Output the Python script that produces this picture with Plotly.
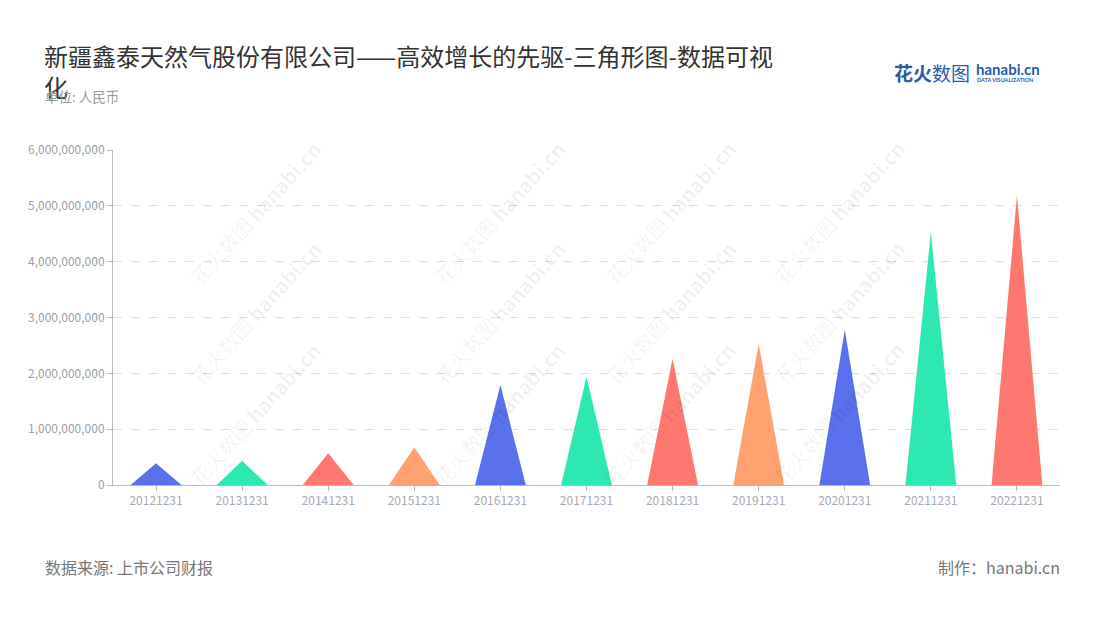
import plotly.graph_objects as go

categories = ["20121231", "20131231", "20141231", "20151231", "20161231", "20171231",
              "20181231", "20191231", "20201231", "20211231", "20221231"]
values = [0.39e9, 0.435e9, 0.567e9, 0.675e9, 1.79e9, 1.94e9, 2.26e9, 2.53e9, 2.78e9, 4.53e9, 5.19e9]
palette = ["#5971ED", "#2EE8B2", "#FF7870", "#FFA26F"]
y_ticks = [0, 1e9, 2e9, 3e9, 4e9, 5e9, 6e9]

FONT = "Noto Sans CJK SC"
half_width = 0.295

# plot area in page pixels (page has an 8px body margin)
PL, PR, PT, PB = 113, 1060, 150, 485
OFF = 8
W, H = 1100, 620


def px(x):
    return (x - PL) / (PR - PL)


def py(y):
    return (PB - y) / (PB - PT)


fig = go.Figure()
for i, (cat, v) in enumerate(zip(categories, values)):
    fig.add_trace(go.Scatter(
        x=[i - half_width, i, i + half_width, i - half_width],
        y=[0, v, 0, 0],
        mode="lines", fill="toself",
        fillcolor=palette[i % len(palette)],
        line=dict(width=0, color=palette[i % len(palette)]),
        hoverinfo="text", text=f"{cat}: {v:,.0f}",
        showlegend=False,
    ))

annotations = []
# watermarks
for cx in [181, 425, 670, 913]:
    for cy in [132, 312, 494]:
        annotations.append(dict(
            text="花火数图 <b>hanabi.cn</b>", xref="paper", yref="paper",
            x=px(cx), y=py(cy), showarrow=False, textangle=-48,
            font=dict(family=FONT, size=20, color="rgba(0,0,0,0.06)"),
        ))

# title
annotations.append(dict(text="新疆鑫泰天然气股份有限公司——高效增长的先驱-三角形图-数据可视",
                        xref="paper", yref="paper", x=px(42), y=py(55),
                        xanchor="left", yanchor="middle", showarrow=False,
                        font=dict(family=FONT, size=24, color="#333333")))
annotations.append(dict(text="化", xref="paper", yref="paper", x=px(42), y=py(87),
                        xanchor="left", yanchor="middle", showarrow=False,
                        font=dict(family=FONT, size=24, color="#333333")))
# subtitle
annotations.append(dict(text="单位: 人民币", xref="paper", yref="paper", x=px(43), y=py(96),
                        xanchor="left", yanchor="middle", showarrow=False,
                        font=dict(family=FONT, size=13.5, color="#999999")))
# logo
annotations.append(dict(text="<b>花火</b>数图", xref="paper", yref="paper",
                        x=px(892), y=py(73), xanchor="left", yanchor="middle",
                        showarrow=False, font=dict(family=FONT, size=19, color="#2B5BA8")))
annotations.append(dict(text="<b>hanabi.cn</b>", xref="paper", yref="paper",
                        x=px(974), y=py(69), xanchor="left", yanchor="middle",
                        showarrow=False, font=dict(family="Lato", size=15, color="#2B5BA8")))
annotations.append(dict(text="<b>DATA VISUALIZATION</b>", xref="paper", yref="paper",
                        x=px(975), y=py(80), xanchor="left", yanchor="middle",
                        showarrow=False, font=dict(family="Lato", size=5.5, color="#2B5BA8")))
# footer
annotations.append(dict(text="数据来源: 上市公司财报", xref="paper", yref="paper",
                        x=px(43), y=py(567), xanchor="left", yanchor="middle",
                        showarrow=False, font=dict(family=FONT, size=16, color="#777777")))
annotations.append(dict(text="制作：hanabi.cn", xref="paper", yref="paper",
                        x=px(1062), y=py(567), xanchor="right", yanchor="middle",
                        showarrow=False, font=dict(family=FONT, size=16, color="#777777")))

fig.update_layout(
    width=W, height=H,
    margin=dict(l=PL - OFF, r=W + OFF - PR, t=PT - OFF, b=H + OFF - PB),
    paper_bgcolor="white", plot_bgcolor="white",
    annotations=annotations,
    xaxis=dict(range=[-0.5, len(categories) - 0.5], tickmode="array",
               tickvals=list(range(len(categories))), ticktext=categories,
               showgrid=False, zeroline=False, showline=True, linecolor="#BBBBBB", linewidth=1,
               ticks="outside", ticklen=5, tickcolor="#BBBBBB",
               tickfont=dict(family=FONT, size=12, color="#A8AAB4"), fixedrange=True),
    yaxis=dict(range=[0, 6e9], tickmode="array", tickvals=y_ticks,
               tickformat=",d", showgrid=True, gridcolor="#DDDDDD", griddash="dash",
               zeroline=False, showline=True, linecolor="#BBBBBB", linewidth=1,
               ticks="outside", ticklen=5, tickcolor="#BBBBBB",
               tickfont=dict(family=FONT, size=12, color="#A0A0A0"), fixedrange=True),
)

fig.write_html("out.html")
